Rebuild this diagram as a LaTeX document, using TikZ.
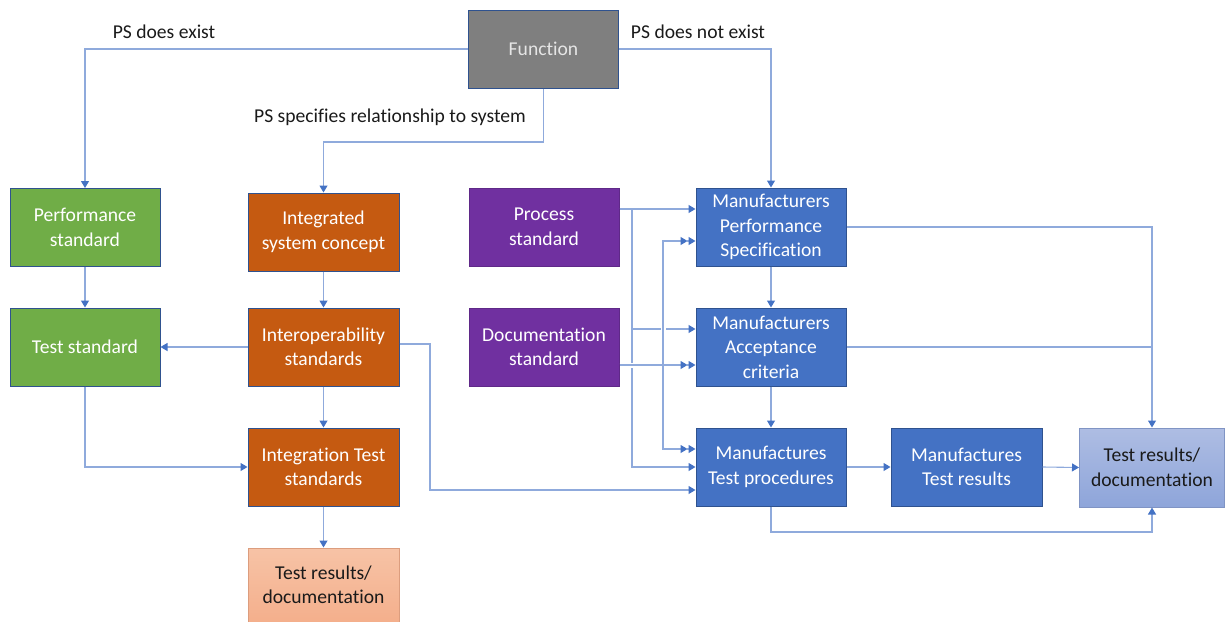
\documentclass[tikz,border=0pt]{standalone}
\usepackage{fontspec}
\setmainfont{Carlito}[Ligatures=NoCommon]
\usetikzlibrary{arrows.meta}
\definecolor{linkline}{HTML}{8FAADC}
\definecolor{linktip}{HTML}{4472C4}
\definecolor{edgeblue}{HTML}{2F528F}
\definecolor{fngray}{HTML}{7F7F7F}
\definecolor{stdgreen}{HTML}{70AD47}
\definecolor{sysorange}{HTML}{C55A11}
\definecolor{procpurple}{HTML}{7030A0}
\definecolor{mfrblue}{HTML}{4472C4}
\definecolor{resorangetop}{HTML}{F7C3A6}
\definecolor{resorangebot}{HTML}{F4AF8C}
\definecolor{resbluetop}{HTML}{AEBDE3}
\definecolor{resbluebot}{HTML}{8EA5DA}
\definecolor{labeltext}{HTML}{1A1A1A}
\begin{document}
\begin{tikzpicture}[x=1pt,y=-1pt,
  font=\fontsize{19.6}{24.5}\selectfont,
  blk/.style={draw=edgeblue, line width=1pt, minimum width=150pt, minimum height=78pt,
    inner sep=0pt, align=center, text=white},
  fnbox/.style={blk, fill=fngray, text=black!10},
  grnbox/.style={blk, fill=stdgreen},
  orgbox/.style={blk, fill=sysorange},
  purbox/.style={blk, fill=procpurple, draw=procpurple!85!black},
  blubox/.style={blk, fill=mfrblue},
  resorg/.style={blk, draw=resorangebot!90!black, top color=resorangetop, bottom color=resorangebot, text=labeltext},
  resblu/.style={blk, draw=resbluebot!90!black, top color=resbluetop, bottom color=resbluebot, text=labeltext},
  conn/.style={draw=linkline, line width=1.1pt, -{Triangle[length=7pt,width=8pt,color=linktip]}},
  plain/.style={draw=linkline, line width=1.1pt},
  halo/.style={draw=white, line width=5pt},
  lbl/.style={text=labeltext, inner sep=0pt}
]
\useasboundingbox (0,0) rectangle (1225,621);

% boxes
\node[fnbox]  (fn)   at (543.5,49)  {Function};
\node[grnbox] (perf) at (85,227.5)  {Performance\\standard};
\node[grnbox] (tst)  at (85,347)    {Test standard};
\node[orgbox, minimum width=151pt] (isc) at (323.5,232) {Integrated\\system concept};
\node[orgbox, minimum width=151pt] (iop) at (323.5,347) {Interoperability\\standards};
\node[orgbox, minimum width=151pt] (its) at (323.5,467) {Integration Test\\standards};
\node[resorg, minimum width=151pt, minimum height=74pt] (tro) at (323.5,585) {Test results/\\documentation};
\node[purbox] (proc) at (544,227)   {Process\\standard};
\node[purbox] (doc)  at (544,347)   {Documentation\\standard};
\node[blubox] (mps)  at (771,227)   {Manufacturers\\Performance\\Specification};
\node[blubox] (mac)  at (771,347)   {Manufacturers\\Acceptance\\criteria};
\node[blubox] (mtp)  at (771,467)   {Manufactures\\Test procedures};
\node[blubox, minimum width=151pt] (mtr) at (966.5,467) {Manufactures\\Test results};
\node[resblu, minimum width=145pt, minimum height=79pt] (trb) at (1152,467.5) {Test results/\\documentation};

% branch labels
\node[lbl] (l1) at (164,32)  {PS does exist};
\node[lbl] (l2) at (698,32)  {PS does not exist};
\node[lbl] (l3) at (390,117) {PS specifies relationship to system};

% from the function
\draw[conn] (fn.west) -| (perf.north);
\draw[conn] (fn.east) -| (mps.north);
\draw[conn] (fn.south) -- (543.5,142) -| (isc.north);

% left-hand chain
\draw[conn] (perf.south) -- (tst.north);
\draw[conn] (isc.south) -- (iop.north);
\draw[conn] (iop.west) -- (tst.east);
\draw[conn] (iop.south) -- (its.north);
\draw[conn] (tst.south) |- (its.west);
\draw[conn] (its.south) -- (tro.north);
\draw[conn] (iop.east |- 0,344) -- (430,344) -- (430,490) -- (mtp.west |- 0,490);

% process standard feeds
\draw[conn] (proc.east |- 0,209) -- (mps.west |- 0,209);
\draw[conn] (proc.east |- 0,209) -- (632,209) -- (632,329) -- (mac.west |- 0,329);
\draw[conn] (632,209) -- (632,467) -- (mtp.west |- 0,467);

% documentation standard feeds, hopping over the process lines
\foreach \s in {halo,conn}{
  \draw[\s, shorten >=8pt] (doc.east |- 0,365) -- (mac.west |- 0,365);
  \draw[\s, shorten >=8pt] (663,365) -- (663,241) -- (mps.west |- 0,241);
  \draw[\s, shorten >=8pt] (663,365) -- (663,449) -- (mtp.west |- 0,449);
}
\draw[conn] ([xshift=-9pt]mac.west |- 0,365) -- (mac.west |- 0,365);
\draw[conn] ([xshift=-9pt]mps.west |- 0,241) -- (mps.west |- 0,241);
\draw[conn] ([xshift=-9pt]mtp.west |- 0,449) -- (mtp.west |- 0,449);

% manufacturer chain
\draw[conn] (mps.south) -- (mac.north);
\draw[conn] (mac.south) -- (mtp.north);
\draw[conn] (mps.east) -| (trb.north);
\draw[plain] (mac.east) -- (trb.north |- mac.east);
\draw[conn] (mtp.east) -- (mtr.west);
\draw[conn] (mtr.east) -- (trb.west);
\draw[conn] (mtp.south) -- (771,532) -| (trb.south);
\end{tikzpicture}
\end{document}
